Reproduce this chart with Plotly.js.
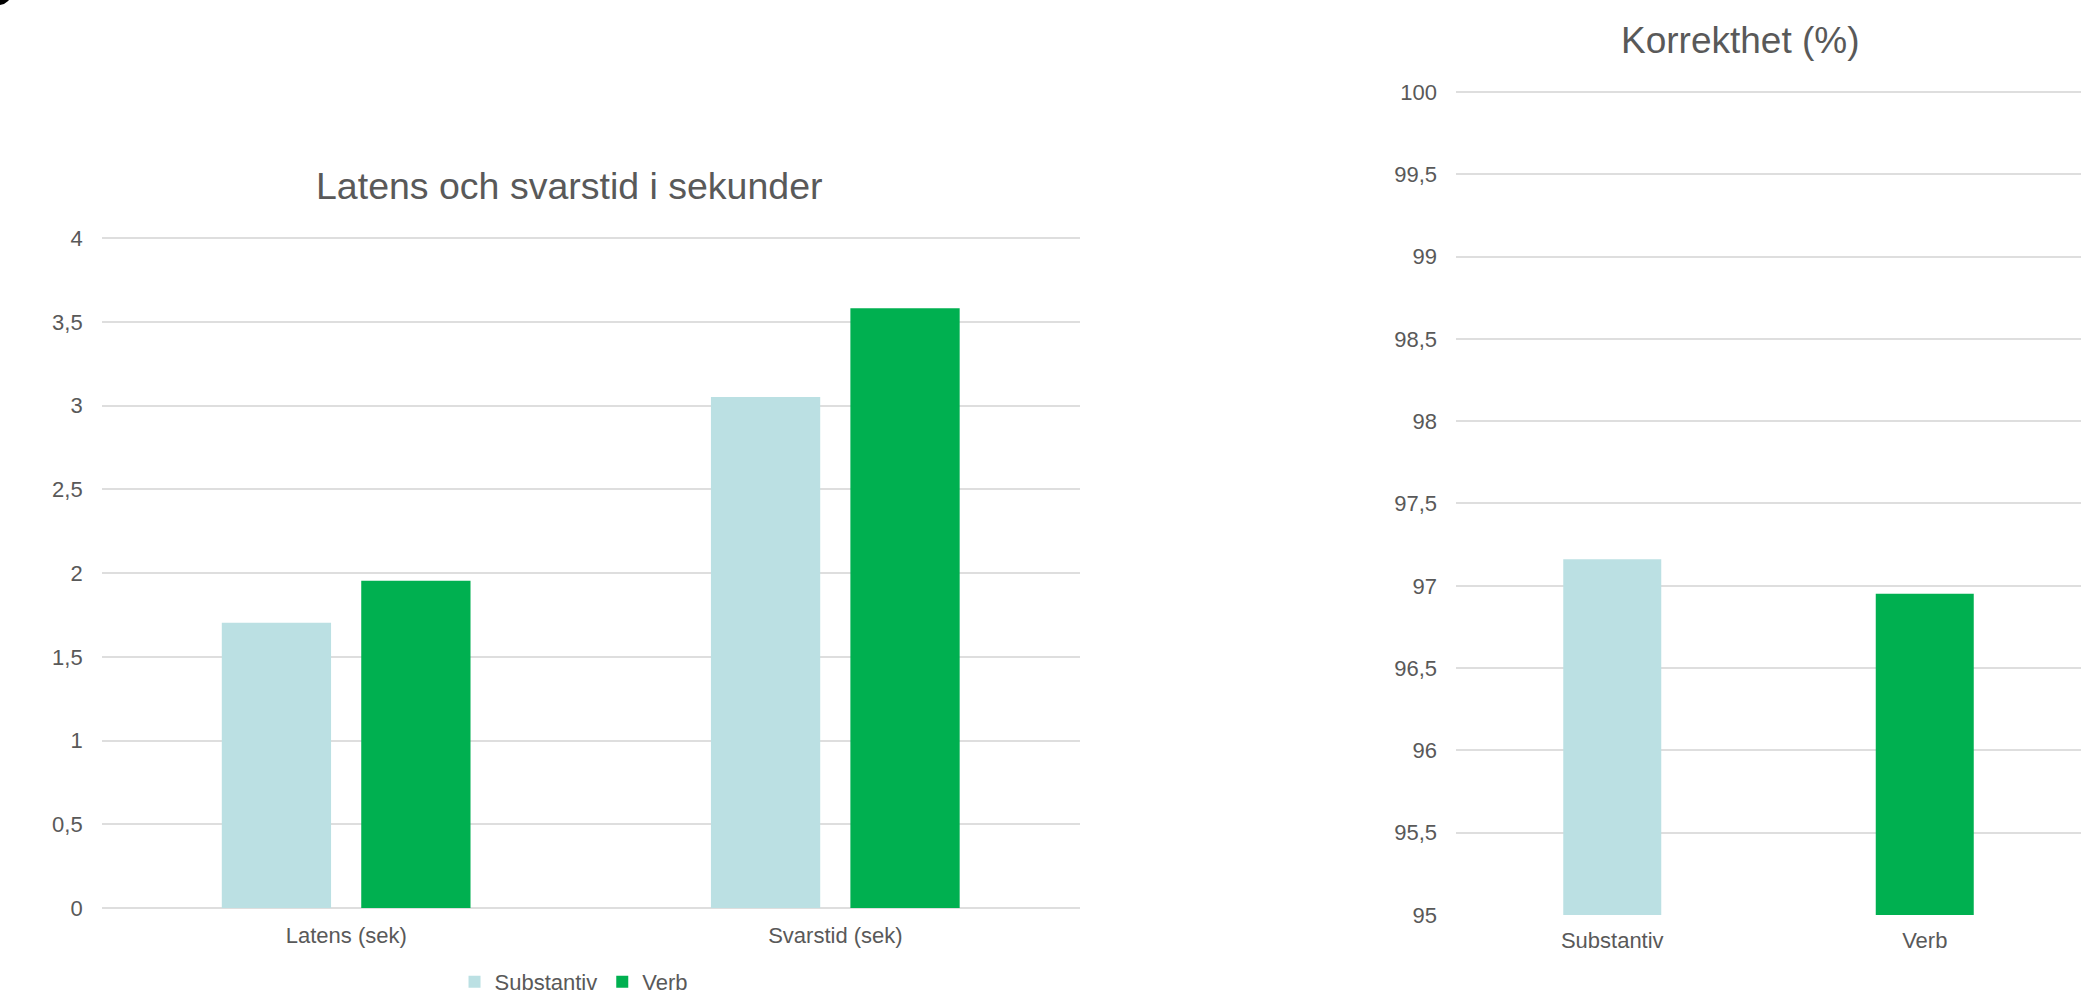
<!DOCTYPE html>
<html>
<head>
<meta charset="utf-8">
<script src="https://cdn.plot.ly/plotly-3.0.1.min.js"></script>
<style>
  html, body { margin: 0; padding: 0; background: #ffffff; }
  #chart { width: 2081px; height: 996px; }
</style>
</head>
<body>
<div id="chart"></div>
<script>
// ---- Data ----
const timeCategories = ['Latens (sek)', 'Svarstid (sek)'];
const substantivTimes = [1.703, 3.052];
const verbTimes = [1.955, 3.582];

const accuracyCategories = ['Substantiv', 'Verb'];
const accuracyValues = [97.162, 96.951];

const seriesNames = ['Substantiv', 'Verb'];
const leftTitle = 'Latens och svarstid i sekunder';
const rightTitle = 'Korrekthet (%)';

// ---- Styles ----
const colSub = '#BBE0E3';
const colVerb = '#00B050';
const gridCol = '#DEDEDE';
const textCol = '#595959';
const fontFam = '"Liberation Sans", Arial, sans-serif';

const traces = [
  {
    type: 'bar', name: seriesNames[0], x: timeCategories, y: substantivTimes,
    xaxis: 'x', yaxis: 'y', marker: { color: colSub },
    width: 0.2234, offset: -0.2545, hoverinfo: 'skip'
  },
  {
    type: 'bar', name: seriesNames[1], x: timeCategories, y: verbTimes,
    xaxis: 'x', yaxis: 'y', marker: { color: colVerb },
    width: 0.2234, offset: 0.0306, hoverinfo: 'skip'
  },
  {
    type: 'bar', name: 'Korrekthet', x: accuracyCategories, y: accuracyValues,
    xaxis: 'x2', yaxis: 'y2', marker: { color: [colSub, colVerb] },
    width: 0.3136, offset: -0.1568, showlegend: false, hoverinfo: 'skip'
  }
];

const tickFont = { family: fontFam, size: 22, color: textCol };

// pixel helpers for axis placement
const W = 2081, H = 996;
const leftPxPerUnit = (908 - 238.3) / 4;
const rightPxPerUnit = (915 - 92) / 5;
const pad = 0.02;

const layout = {
  width: W, height: H,
  margin: { l: 0, r: 0, t: 0, b: 0, autoexpand: false },
  paper_bgcolor: '#ffffff', plot_bgcolor: '#ffffff',
  barmode: 'overlay',
  separators: ', ',
  font: { family: fontFam, color: textCol },
  showlegend: true,
  legend: {
    orientation: 'h', x: 0.2756, xanchor: 'center', y: 1 - 982 / H, yanchor: 'middle',
    font: { family: fontFam, size: 22, color: textCol },
    bgcolor: 'rgba(0,0,0,0)', traceorder: 'normal'
  },
  xaxis: {
    domain: [101.7 / W, 1080 / W], anchor: 'y',
    type: 'category', range: [-0.5, 1.5],
    showgrid: false, zeroline: false, showline: false, ticks: '',
    tickfont: tickFont, ticklabelstandoff: 12, fixedrange: true
  },
  yaxis: {
    domain: [(H - 908) / H, (H - 238.3 + pad * leftPxPerUnit) / H], anchor: 'x',
    range: [0, 4 + pad], dtick: 0.5, tick0: 0,
    showgrid: true, gridcolor: gridCol, gridwidth: 2,
    zeroline: true, zerolinecolor: gridCol, zerolinewidth: 2,
    showline: false, ticks: '', tickfont: tickFont, ticklabelstandoff: 18,
    fixedrange: true
  },
  xaxis2: {
    domain: [1456 / W, 1], anchor: 'y2',
    type: 'category', range: [-0.5, 1.5],
    showgrid: false, zeroline: false, showline: false, ticks: '',
    tickfont: tickFont, ticklabelstandoff: 10, fixedrange: true
  },
  yaxis2: {
    domain: [(H - 915) / H, (H - 92 + pad * rightPxPerUnit) / H], anchor: 'x2',
    range: [95, 100 + pad], dtick: 0.5, tick0: 95,
    showgrid: true, gridcolor: gridCol, gridwidth: 2,
    zeroline: false, showline: false, ticks: '', tickfont: tickFont,
    ticklabelstandoff: 18, fixedrange: true
  },
  annotations: [
    {
      text: leftTitle, xref: 'paper', yref: 'paper',
      x: 569 / W, y: 1 - 186 / H, xanchor: 'center', yanchor: 'middle',
      showarrow: false, font: { family: fontFam, size: 37.5, color: textCol }
    },
    {
      text: rightTitle, xref: 'paper', yref: 'paper',
      x: 1740.5 / W, y: 1 - 40 / H, xanchor: 'center', yanchor: 'middle',
      showarrow: false, font: { family: fontFam, size: 37, color: textCol }
    }
  ],
  shapes: [
    {
      type: 'circle', xref: 'paper', yref: 'paper', layer: 'above',
      x0: -16.3 / W, x1: 12.3 / W, y0: 1 - 5.1 / H, y1: 1 + 23.5 / H,
      fillcolor: '#000000', line: { width: 0 }
    }
  ]
};

Plotly.newPlot('chart', traces, layout, { staticPlot: true, displayModeBar: false });
</script>
</body>
</html>
